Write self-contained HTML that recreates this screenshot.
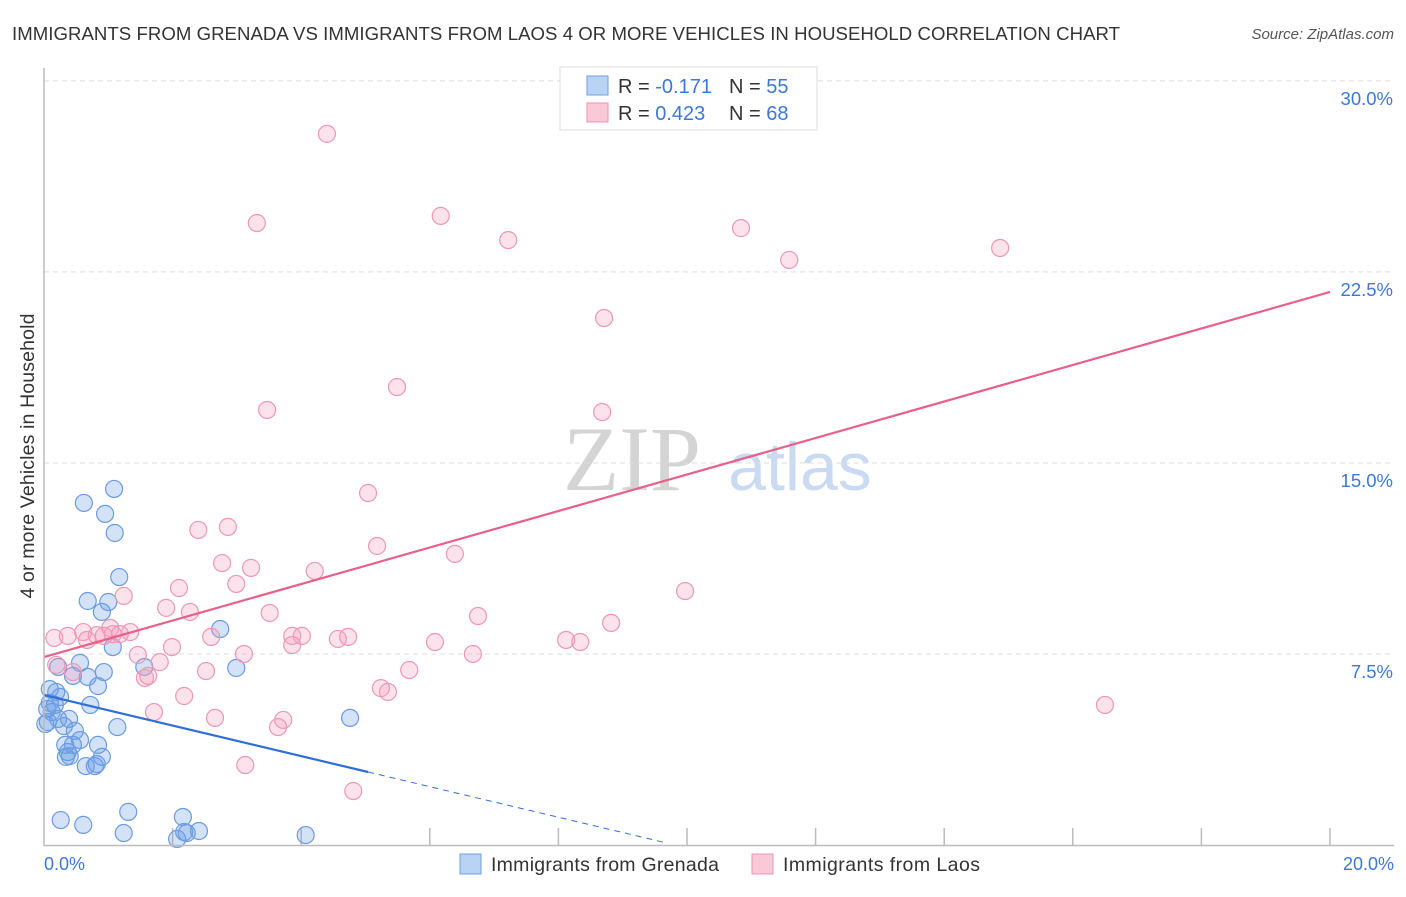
<!DOCTYPE html>
<html><head><meta charset="utf-8"><style>
body{margin:0;background:#fff;font-family:"Liberation Sans",sans-serif;}
</style></head><body>
<svg width="1406" height="892" xmlns="http://www.w3.org/2000/svg" id="chart">
<text x="12" y="40" font-size="18.6" fill="#333" textLength="1108">IMMIGRANTS FROM GRENADA VS IMMIGRANTS FROM LAOS 4 OR MORE VEHICLES IN HOUSEHOLD CORRELATION CHART</text>
<text x="1394" y="39" font-size="15" fill="#555" font-style="italic" text-anchor="end">Source: ZipAtlas.com</text>
<text x="632" y="490" font-size="92" fill="#d4d4d4" font-family="Liberation Serif,serif" text-anchor="middle">ZIP</text>
<text x="800" y="490" font-size="68" fill="#c9daf2" text-anchor="middle">atlas</text>
<text transform="translate(34,456) rotate(-90)" font-size="19.5" fill="#333" text-anchor="middle" textLength="285">4 or more Vehicles in Household</text>
<g id="grid"></g><g id="pts"></g><g id="lines"></g>
<line x1="44" y1="68" x2="44" y2="846" stroke="#bbb" stroke-width="1.5"/>
<line x1="44" y1="845.5" x2="1394" y2="845.5" stroke="#bbb" stroke-width="1.5"/>
<text x="44" y="870" font-size="18" fill="#3c78d8">0.0%</text>
<text x="1394" y="870" font-size="18" fill="#3c78d8" text-anchor="end">20.0%</text>
<g>
<rect x="560" y="67" width="257" height="63" fill="#fff" stroke="#ddd"/>
<rect x="587" y="76" width="21" height="19" fill="#b9d3f5" stroke="#6e9fe0"/>
<rect x="587" y="103" width="21" height="19" fill="#f9c9d7" stroke="#ec93ae"/>
<text x="618" y="93" font-size="20" fill="#333">R = <tspan fill="#3c78d8">-0.171</tspan><tspan x="729">N = </tspan><tspan fill="#3c78d8">55</tspan></text>
<text x="618" y="120" font-size="20" fill="#333">R = <tspan fill="#3c78d8">0.423</tspan><tspan x="729">N = </tspan><tspan fill="#3c78d8">68</tspan></text>
</g>
<g>
<rect x="460" y="854" width="21" height="20" fill="#b9d3f5" stroke="#6e9fe0"/>
<text x="491" y="871" font-size="19.5" fill="#333" textLength="228">Immigrants from Grenada</text>
<rect x="752" y="854" width="21" height="20" fill="#f9c9d7" stroke="#ec93ae"/>
<text x="783" y="871" font-size="19.5" fill="#333" textLength="197">Immigrants from Laos</text>
</g>
</svg>
<script>
const yTicks=[7.5,15,22.5,30];
const yTickLabels=["7.5%","15.0%","22.5%","30.0%"];
const xTicks=[2,4,6,8,10,12,14,16,18,20];
const blueX=[0.62,1.09,0.95,1.10,1.17,0.68,1.00,0.90,1.07,2.74,1.56,2.99,0.22,0.56,0.68,0.45,0.93,0.84,0.19,0.25,0.09,0.05,0.12,0.72,0.06,0.22,0.39,0.31,0.48,0.56,0.33,0.84,0.37,0.40,0.34,0.65,0.79,0.82,0.90,1.14,4.76,0.26,0.61,1.31,1.24,2.16,2.18,2.22,2.41,2.07,4.07,0.02,0.09,0.17,0.45];
const blueY=[13.43,13.98,13.00,12.25,10.52,9.58,9.54,9.15,7.77,8.48,6.99,6.95,6.99,7.15,6.60,6.64,6.79,6.24,6.01,5.81,5.58,5.34,5.22,5.50,4.83,4.95,4.95,4.67,4.48,4.12,3.93,3.93,3.65,3.49,3.46,3.10,3.10,3.18,3.46,4.63,4.99,0.98,0.79,1.30,0.47,1.10,0.51,0.47,0.55,0.24,0.39,4.75,6.12,5.50,3.93];
const pinkX=[4.40,3.31,6.17,7.22,10.84,11.59,14.87,8.71,5.49,3.47,8.68,5.04,2.40,2.86,5.18,6.39,2.77,3.22,4.21,2.10,2.99,9.97,1.24,1.90,2.27,3.51,6.75,8.82,0.16,0.37,0.61,0.82,1.03,1.34,0.67,1.07,1.18,0.93,1.99,2.60,3.86,4.01,4.57,4.73,6.08,8.12,8.34,3.86,1.46,1.80,2.52,3.11,1.57,1.62,2.18,5.68,6.67,5.24,5.35,3.72,3.64,2.66,1.71,3.13,4.81,16.50,0.45,0.19];
const pinkY=[27.92,24.42,24.70,23.75,24.22,22.97,23.44,20.69,17.98,17.08,17.00,13.82,12.37,12.49,11.74,11.43,11.07,10.88,10.76,10.09,10.25,9.97,9.78,9.31,9.15,9.11,8.99,8.72,8.13,8.21,8.36,8.24,8.52,8.36,8.05,8.28,8.28,8.21,7.77,8.17,8.21,8.21,8.09,8.17,7.97,8.05,7.97,7.85,7.46,7.18,6.83,7.50,6.56,6.64,5.85,6.87,7.50,6.16,6.01,4.91,4.63,4.99,5.22,3.14,2.12,5.50,6.79,7.07];
const pinkTrend=[7.38,0.7166];
const blueTrend=[5.89,-0.60];
const blueSolidEnd=5.04, blueDashEnd=9.7;
const NS="http://www.w3.org/2000/svg";
const sx=v=>44+v*64.3, sy=v=>845-v*25.47;
function mk(tag,at,parent){const e=document.createElementNS(NS,tag);for(const k in at)e.setAttribute(k,at[k]);document.getElementById(parent).appendChild(e);return e;}
yTicks.forEach((t,i)=>{
  const g=mk('line',{x1:44,x2:1394,y1:sy(t),y2:sy(t),stroke:'#ddd','stroke-dasharray':'5,4'},'grid');
  
  
  const l=mk('text',{x:1393,y:sy(t)+24,'font-size':18.5,fill:'#3c78d8','text-anchor':'end'},'grid');
  l.textContent=yTickLabels[i];
  
  
});
xTicks.forEach(t=>{
  const e=mk('line',{x1:sx(t),x2:sx(t),y1:828,y2:845,stroke:'#bbb','stroke-width':1.5},'grid');
  
  
});
blueX.forEach((x,i)=>{
  const c=mk('circle',{cx:sx(x),cy:sy(blueY[i]),r:8.5,fill:'rgba(110,160,230,0.3)',stroke:'#6a9be0','stroke-width':1.2},'pts');
  
  
});
pinkX.forEach((x,i)=>{
  const c=mk('circle',{cx:sx(x),cy:sy(pinkY[i]),r:8.5,fill:'rgba(244,160,188,0.3)',stroke:'#ec98b3','stroke-width':1.2},'pts');
  
  
});
const pl=mk('line',{x1:sx(0),y1:sy(pinkTrend[0]),x2:sx(20),y2:sy(pinkTrend[0]+20*pinkTrend[1]),stroke:'#e8608a','stroke-width':2.2},'lines');


const bl=mk('line',{x1:sx(0),y1:sy(blueTrend[0]),x2:sx(blueSolidEnd),y2:sy(blueTrend[0]+blueSolidEnd*blueTrend[1]),stroke:'#2f6fd6','stroke-width':2.2},'lines');


const bd=mk('line',{x1:sx(blueSolidEnd),y1:sy(blueTrend[0]+blueSolidEnd*blueTrend[1]),x2:sx(blueDashEnd),y2:sy(blueTrend[0]+blueDashEnd*blueTrend[1]),stroke:'#2f6fd6','stroke-width':1,'stroke-dasharray':'6,5'},'lines');


</script>
</body></html>
